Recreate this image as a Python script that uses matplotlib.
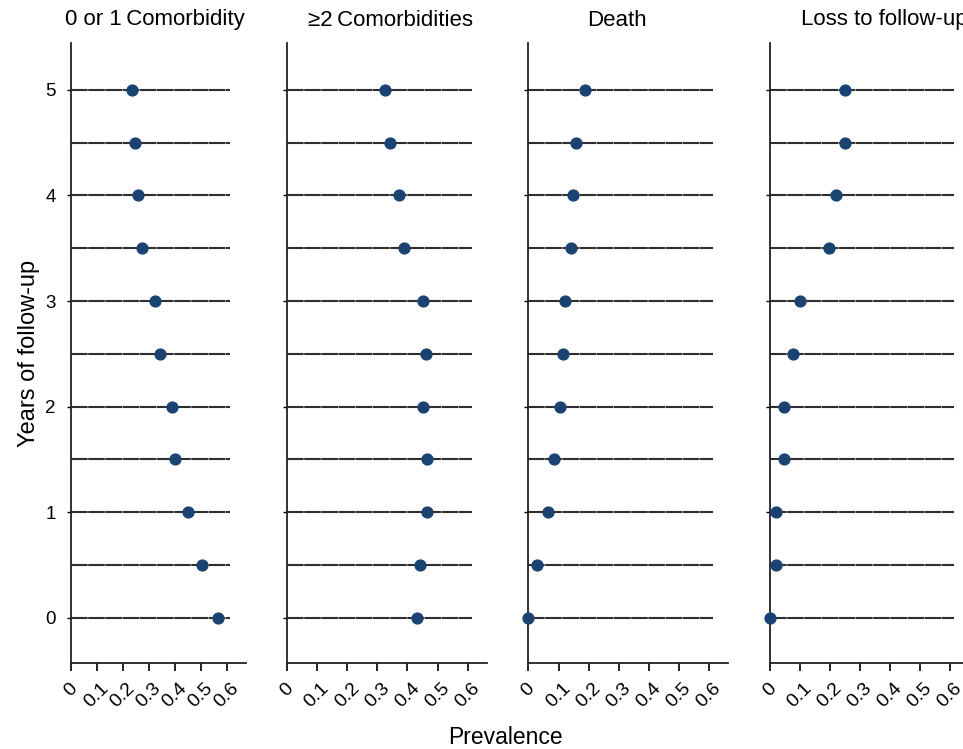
import matplotlib.pyplot as plt
import numpy as np

plt.rcParams['font.family'] = ['Liberation Sans', 'DejaVu Sans']

years = [0, 0.5, 1, 1.5, 2, 2.5, 3, 3.5, 4, 4.5, 5]
panel_titles = ["0 or 1\u2009Comorbidity", "\u22652\u2009Comorbidities", "Death", "Loss to follow-up"]

# prevalence per half-year, from year 0 to year 5
comorb_0_1 = [0.568, 0.505, 0.450, 0.401, 0.389, 0.344, 0.325, 0.272, 0.257, 0.247, 0.235]
comorb_2plus = [0.431, 0.443, 0.464, 0.464, 0.453, 0.460, 0.450, 0.387, 0.373, 0.342, 0.326]
death = [0.0, 0.027, 0.064, 0.086, 0.105, 0.115, 0.122, 0.142, 0.149, 0.158, 0.188]
loss_fu = [0.0, 0.022, 0.022, 0.049, 0.049, 0.079, 0.103, 0.199, 0.220, 0.252, 0.252]

x_ticks = [0, 0.1, 0.2, 0.3, 0.4, 0.5, 0.6]
x_ticklabels = ["0", "0.1", "0.2", "0.3", "0.4", "0.5", "0.6"]

series = [comorb_0_1, comorb_2plus, death, loss_fu]

W, H = 963, 749
fig = plt.figure(figsize=(W / 100, H / 100), dpi=100)

# axes boxes in pixels: left, right
boxes = [(71, 245.7), (287, 486.7), (528.4, 727.8), (769.5, 969)]
xmax = [0.673, 0.663, 0.662, 0.663]
title_x = [155, 390, 617, 884]
top, bottom = 43.5, 663

for i, (vals, (l, r)) in enumerate(zip(series, boxes)):
    ax = fig.add_axes([l / W, 1 - bottom / H, (r - l) / W, (bottom - top) / H])
    for yv in years:
        ax.plot([0, 0.613], [yv, yv], color='#2e2e2e', linewidth=1.5,
                dashes=[8, 0.25], zorder=2)
    ax.plot(vals, years, 'o', color='#1b4372', markersize=7.8,
            clip_on=False, zorder=3)
    ax.set_xlim(0, xmax[i])
    ax.set_ylim(-0.43, 5.44)
    ax.set_xticks(x_ticks)
    ax.set_xticklabels(x_ticklabels, rotation=45, ha='center', va='top',
                       fontsize=14)
    ax.set_yticks([0, 1, 2, 3, 4, 5])
    if i == 0:
        ax.set_yticklabels(["0", "1", "2", "3", "4", "5"], fontsize=13.5)
        ax.set_ylabel("Years of follow-up", fontsize=17, labelpad=4)
    else:
        ax.set_yticklabels([])
    ax.tick_params(axis='x', length=6, width=1.2, pad=6)
    ax.tick_params(axis='y', length=3, width=1.0, pad=8)
    for s in ['top', 'right']:
        ax.spines[s].set_visible(False)
    for s in ['left', 'bottom']:
        ax.spines[s].set_linewidth(1.3)
        ax.spines[s].set_color('#222222')
    fig.text(title_x[i] / W, 1 - 20 / H, panel_titles[i], ha='center',
             va='center', fontsize=16)

fig.text(505 / W, 1 - 738 / H, "Prevalence", ha='center', va='center', fontsize=16.5)

fig.savefig("out.png", dpi=100, facecolor='white')
